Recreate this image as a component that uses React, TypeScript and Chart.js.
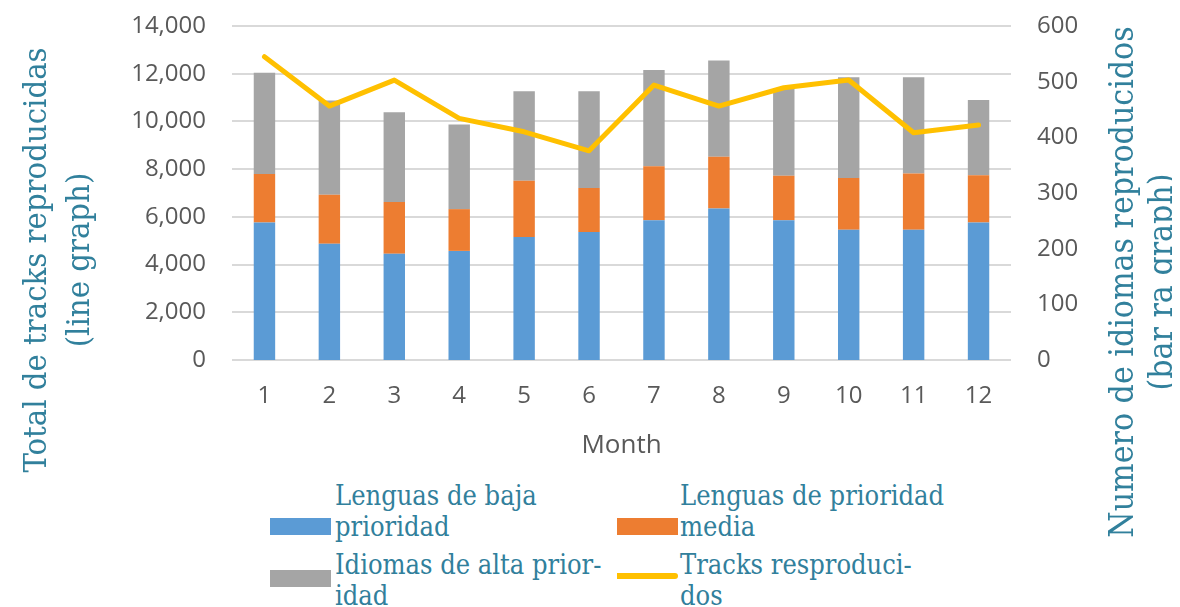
import React, { useEffect, useRef } from 'react';
import { Chart, registerables } from 'chart.js';

Chart.register(...registerables);

const MONTHS = ['1', '2', '3', '4', '5', '6', '7', '8', '9', '10', '11', '12'];
const LOW_PRIORITY = [247, 209, 191, 196, 221, 230, 251, 272, 251, 234, 234, 247];
const MEDIUM_PRIORITY = [87, 88, 93, 75, 101, 79, 97, 93, 80, 93, 101, 85];
const HIGH_PRIORITY = [182, 169, 161, 152, 161, 174, 173, 173, 157, 181, 173, 135];
const TRACKS = [12712, 10644, 11734, 10128, 9565, 8768, 11525, 10644, 11412, 11734, 9524, 9847];

const LEFT_MAX = 14000;
const LEFT_STEP = 2000;
const RIGHT_MAX = 600;
const RIGHT_STEP = 100;

const SERIES_NAMES = ['Lenguas de baja prioridad', 'Lenguas de prioridad media', 'Idiomas de alta prioridad', 'Tracks resproducidos'];
const LEFT_TITLE = ['Total de tracks reproducidas', '(line graph)'];
const RIGHT_TITLE = ['Numero de idiomas reproducidos', '(bar ra graph)'];
const X_TITLE = 'Month';

const BLUE = '#5B9BD5';
const ORANGE = '#ED7D31';
const GRAY = '#A5A5A5';
const YELLOW = '#FFC000';
const TEAL = '#31809C';
const TICK = '#595959';
const SERIF = '"DejaVu Serif Condensed", "DejaVu Serif", serif';

const fmt = (v: number) => String(Math.round(v)).replace(/\B(?=(\d{3})+(?!\d))/g, ',');

const serifStyle: React.CSSProperties = {
  fontFamily: SERIF,
  fontStretch: 'condensed',
  color: TEAL,
  whiteSpace: 'nowrap',
};

export default function App() {
  const ref = useRef<HTMLCanvasElement>(null);

  useEffect(() => {
    const chart = new Chart(ref.current as HTMLCanvasElement, {
      data: {
        labels: MONTHS,
        datasets: [
          {
            type: 'line',
            label: SERIES_NAMES[3],
            data: TRACKS,
            yAxisID: 'y',
            borderColor: YELLOW,
            backgroundColor: YELLOW,
            borderWidth: 5,
            pointRadius: 0,
            tension: 0,
            borderCapStyle: 'round',
            borderJoinStyle: 'round',
            order: 0,
          },
          {
            type: 'bar',
            label: SERIES_NAMES[0],
            data: LOW_PRIORITY,
            yAxisID: 'y1',
            backgroundColor: BLUE,
            stack: 's',
            order: 1,
            barPercentage: 0.33,
            categoryPercentage: 1,
          },
          {
            type: 'bar',
            label: SERIES_NAMES[1],
            data: MEDIUM_PRIORITY,
            yAxisID: 'y1',
            backgroundColor: ORANGE,
            stack: 's',
            order: 1,
            barPercentage: 0.33,
            categoryPercentage: 1,
          },
          {
            type: 'bar',
            label: SERIES_NAMES[2],
            data: HIGH_PRIORITY,
            yAxisID: 'y1',
            backgroundColor: GRAY,
            stack: 's',
            order: 1,
            barPercentage: 0.33,
            categoryPercentage: 1,
          },
        ] as any,
      },
      options: {
        responsive: false,
        animation: false,
        devicePixelRatio: 1,
        layout: { padding: { top: 18, left: 0, right: 0, bottom: 0 } },
        plugins: { legend: { display: false }, tooltip: { enabled: false } },
        scales: {
          x: {
            stacked: true,
            offset: true,
            grid: { display: false, drawTicks: false },
            border: { display: false },
            ticks: { color: TICK, font: { family: 'Open Sans', size: 24 }, padding: 22, maxRotation: 0 },
            title: {
              display: true,
              text: X_TITLE,
              color: TICK,
              font: { family: 'Open Sans', size: 26 },
              padding: { top: 0, bottom: 17 },
            },
            afterFit: (s: any) => {
              s.height = 118;
              s.paddingLeft = 0;
              s.paddingRight = 0;
            },
          },
          y: {
            position: 'left',
            min: 0,
            max: LEFT_MAX,
            ticks: {
              stepSize: LEFT_STEP,
              color: TICK,
              font: { family: 'Open Sans', size: 24 },
              padding: 26,
              callback: (v: any) => fmt(Number(v)),
            },
            grid: { color: '#D9D9D9', lineWidth: 2, drawTicks: false },
            border: { display: false },
            afterFit: (s: any) => {
              s.width = 224;
              s.paddingTop = 0;
              s.paddingBottom = 0;
            },
          },
          y1: {
            position: 'right',
            stacked: true,
            min: 0,
            max: RIGHT_MAX,
            ticks: {
              stepSize: RIGHT_STEP,
              color: TICK,
              font: { family: 'Open Sans', size: 24 },
              padding: 26,
              callback: (v: any) => fmt(Number(v)),
            },
            grid: { display: false, drawTicks: false },
            border: { display: false },
            afterFit: (s: any) => {
              s.width = 161;
              s.paddingTop = 0;
              s.paddingBottom = 0;
            },
          },
        },
      } as any,
    });
    return () => chart.destroy();
  }, []);

  const legendText: React.CSSProperties = {
    ...serifStyle,
    position: 'absolute',
    fontSize: 27,
    lineHeight: '31px',
  };

  return (
    <div style={{ position: 'relative', width: 1172, height: 599, overflow: 'hidden' }}>
      <style>{'html,body{overflow:hidden;}'}</style>
      <canvas
        ref={ref}
        width={1164}
        height={470}
        style={{ position: 'absolute', left: 0, top: 0, width: 1164, height: 470 }}
      />
      {/* Left axis title */}
      <div
        style={{
          ...serifStyle,
          position: 'absolute',
          left: 48.5 - 260,
          top: 252 - 43,
          width: 520,
          height: 86,
          fontSize: 32.5,
          lineHeight: '43px',
          textAlign: 'center',
          transform: 'rotate(-90deg)',
        }}
      >
        {LEFT_TITLE[0]}
        <br />
        {LEFT_TITLE[1]}
      </div>
      {/* Right axis title */}
      <div
        style={{
          ...serifStyle,
          position: 'absolute',
          left: 1133 - 280,
          top: 274 - 39,
          width: 560,
          height: 78,
          fontSize: 33.5,
          lineHeight: '39px',
          textAlign: 'center',
          transform: 'rotate(-90deg)',
        }}
      >
        {RIGHT_TITLE[0]}
        <br />
        {RIGHT_TITLE[1]}
      </div>
      {/* Legend */}
      <div style={{ position: 'absolute', left: 262, top: 510, width: 61, height: 17, background: BLUE }} />
      <div style={{ ...legendText, left: 327, top: 472 }}>
        Lenguas de baja
        <br />
        prioridad
      </div>
      <div style={{ position: 'absolute', left: 609, top: 510, width: 61, height: 17, background: ORANGE }} />
      <div style={{ ...legendText, left: 672, top: 472 }}>
        Lenguas de prioridad
        <br />
        media
      </div>
      <div style={{ position: 'absolute', left: 262, top: 562, width: 61, height: 17, background: GRAY }} />
      <div style={{ ...legendText, left: 327, top: 541 }}>
        Idiomas de alta prior-
        <br />
        idad
      </div>
      <div
        style={{
          position: 'absolute',
          left: 609,
          top: 565,
          width: 61,
          height: 6,
          background: YELLOW,
          borderRadius: '0 3px 3px 0',
        }}
      />
      <div style={{ ...legendText, left: 672, top: 541 }}>
        Tracks resproduci-
        <br />
        dos
      </div>
    </div>
  );
}
